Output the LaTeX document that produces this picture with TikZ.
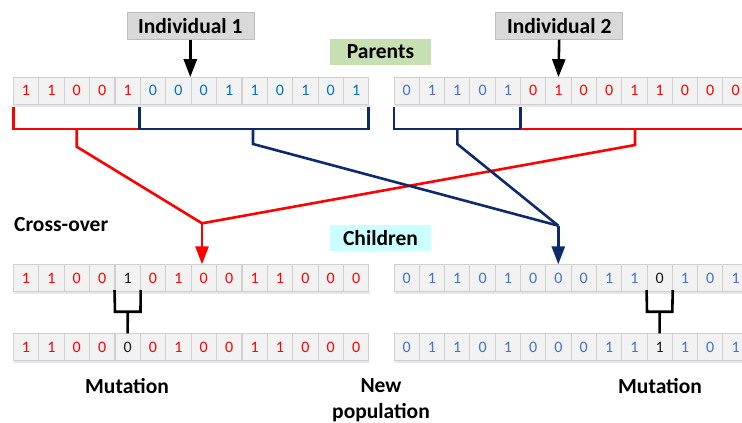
\documentclass[tikz,border=0pt]{standalone}
\usepackage{fontspec}
\setmainfont{Carlito}
\usetikzlibrary{arrows.meta}

\definecolor{bitred}{HTML}{FF0000}
\definecolor{bitblue}{HTML}{0070C0}
\definecolor{bitsteel}{HTML}{4472C4}
\definecolor{bitblack}{HTML}{1A1A1A}
\definecolor{navyline}{HTML}{0F2A6B}
\definecolor{cellfill}{HTML}{F2F2F2}
\definecolor{cellrule}{HTML}{CFCFCF}
\definecolor{cellshade}{HTML}{E4E8EE}
\definecolor{tagfill}{HTML}{D9D9D9}
\definecolor{tagrule}{HTML}{BDBDBD}
\definecolor{parentsfill}{HTML}{C6E0B4}
\definecolor{childrenfill}{HTML}{CCFFFF}

\tikzset{
  bit/.style={draw=cellrule, line width=0.8pt, fill=cellfill, minimum width=25.35pt,
    minimum height=26.5pt, inner sep=0pt, font=\fontsize{16}{16}\selectfont},
  label/.style={font=\fontsize{21.5}{26}\selectfont\bfseries, inner sep=0pt},
  tagbox/.style={label, draw=tagrule, line width=0.6pt, fill=tagfill, minimum width=127pt, minimum height=26.5pt},
  stagebox/.style={label, minimum width=101pt, minimum height=26pt},
  redpath/.style={draw=bitred, line width=2.6pt},
  bluepath/.style={draw=navyline, line width=2.6pt},
  mutpath/.style={draw=black, line width=2.6pt},
  tip/.style={-{Triangle[length=18pt,width=13pt]}},
}

\begin{document}
\begin{tikzpicture}[x=1pt, y=-1pt]
\clip (0,0) rectangle (742,423);
\fill[white] (0,0) rectangle (742,423);

% ---- faint shading under each chromosome strip
\foreach \y in {104.8, 291.8, 360.8} {
  \fill[cellshade] (14,\y) rectangle (370,{\y+2});
  \fill[cellshade] (395,\y) rectangle (760,{\y+2});
}

% ---- parent chromosomes
\foreach [count=\i from 0] \d/\c in {1/bitred,1/bitred,0/bitred,0/bitred,1/bitred,
  0/bitblue,0/bitblue,0/bitblue,1/bitblue,1/bitblue,0/bitblue,1/bitblue,0/bitblue,1/bitblue}
  \node[bit, text=\c] (pa-\i) at ({13.3+25.4*\i+12.7}, 90.8) {\d};
\foreach [count=\i from 0] \d/\c in {0/bitsteel,1/bitsteel,1/bitsteel,0/bitsteel,1/bitsteel,
  0/bitred,1/bitred,0/bitred,0/bitred,1/bitred,1/bitred,0/bitred,0/bitred,0/bitred}
  \node[bit, text=\c] (pb-\i) at ({394+25.3*\i+12.65}, 90.8) {\d};

% ---- children after cross-over
\foreach [count=\i from 0] \d/\c in {1/bitred,1/bitred,0/bitred,0/bitred,1/bitblack,
  0/bitred,1/bitred,0/bitred,0/bitred,1/bitred,1/bitred,0/bitred,0/bitred,0/bitred}
  \node[bit, text=\c] (ca-\i) at ({13.3+25.4*\i+12.7}, 278) {\d};
\foreach [count=\i from 0] \d/\c in {0/bitsteel,1/bitsteel,1/bitsteel,0/bitsteel,1/bitsteel,
  0/bitsteel,0/bitsteel,0/bitsteel,1/bitsteel,1/bitsteel,0/bitblack,1/bitsteel,0/bitsteel,1/bitsteel}
  \node[bit, text=\c] (cb-\i) at ({394+25.3*\i+12.65}, 278) {\d};

% ---- children after mutation
\foreach [count=\i from 0] \d/\c in {1/bitred,1/bitred,0/bitred,0/bitred,0/bitblack,
  0/bitred,1/bitred,0/bitred,0/bitred,1/bitred,1/bitred,0/bitred,0/bitred,0/bitred}
  \node[bit, text=\c] (ma-\i) at ({13.3+25.4*\i+12.7}, 347) {\d};
\foreach [count=\i from 0] \d/\c in {0/bitsteel,1/bitsteel,1/bitsteel,0/bitsteel,1/bitsteel,
  0/bitsteel,0/bitsteel,0/bitsteel,1/bitsteel,1/bitsteel,1/bitblack,1/bitsteel,0/bitsteel,1/bitsteel}
  \node[bit, text=\c] (mb-\i) at ({394+25.3*\i+12.65}, 347) {\d};

% ---- labels
\node[tagbox] (ind1) at (190.3,26) {Individual 1};
\node[tagbox] (ind2) at (559.2,26) {Individual 2};
\node[stagebox, fill=parentsfill] (parents) at (380.5,52) {Parents};
\node[stagebox, fill=childrenfill] (children) at (380.5,238) {Children};
\node[label, anchor=west] (xover) at (14,225) {Cross-over};
\node[label] (muta) at (127,386) {Mutation};
\node[label] (mutb) at (660,386) {Mutation};
\node[label, align=center] (newpop) at (381,400) {New\\population};

% ---- selection arrows
\draw[black, line width=2.6pt, tip] (ind1.south) -- (ind1.south |- pa-7.north west);
\draw[black, line width=2.6pt, tip] (ind2.south) -- (pb-6.north);

% ---- cut-point brackets on the parents
\coordinate (a0) at (13.3,106.5);   \coordinate (a5) at (139.5,106.5);  \coordinate (a14) at (368.7,106.5);
\coordinate (b0) at (394,106.5);    \coordinate (b5) at (520.5,106.5);  \coordinate (b14) at (760,106.5);
\draw[redpath]  (a0) -- (13.3,129) -- (139.5,129);
\draw[bluepath] (a5) -- (139.5,129) -- (368.7,129) -- (a14);
\draw[bluepath] (b0) -- (394,129) -- (520.5,129) -- (b5);
\draw[redpath]  (520.5,129) -- (760,129) -- (b14);

% ---- recombination paths
\coordinate (joinA) at (202,223.3);
\coordinate (joinB) at (558.3,225.7);
\draw[redpath, line join=miter] (76.7,129) -- (76.7,146.7) -- (joinA);
\draw[redpath, line join=miter] (635,129) -- (635,145) -- (joinA);
\draw[bluepath, line join=miter] (253,129) -- (253,144) -- (joinB);
\draw[bluepath, line join=miter] (457.3,129) -- (457.3,144) -- (joinB);
\draw[redpath, tip] (joinA) -- (joinA |- ca-7.north);
\draw[bluepath, tip] (joinB) -- (joinB |- cb-6.north);

% ---- mutation brackets
\draw[mutpath] ([yshift=1.5pt]ca-4.south west) -- (115,311.7) -- (140.5,311.7) -- ([yshift=1.5pt]ca-4.south east);
\draw[mutpath] (127.8,311.7) -- (ma-4.north);
\draw[mutpath] ([yshift=1.5pt]cb-10.south west) -- (647,311.7) -- (672.3,311.7) -- ([yshift=1.5pt]cb-10.south east);
\draw[mutpath] (659.7,311.7) -- (mb-10.north);
\end{tikzpicture}
\end{document}
